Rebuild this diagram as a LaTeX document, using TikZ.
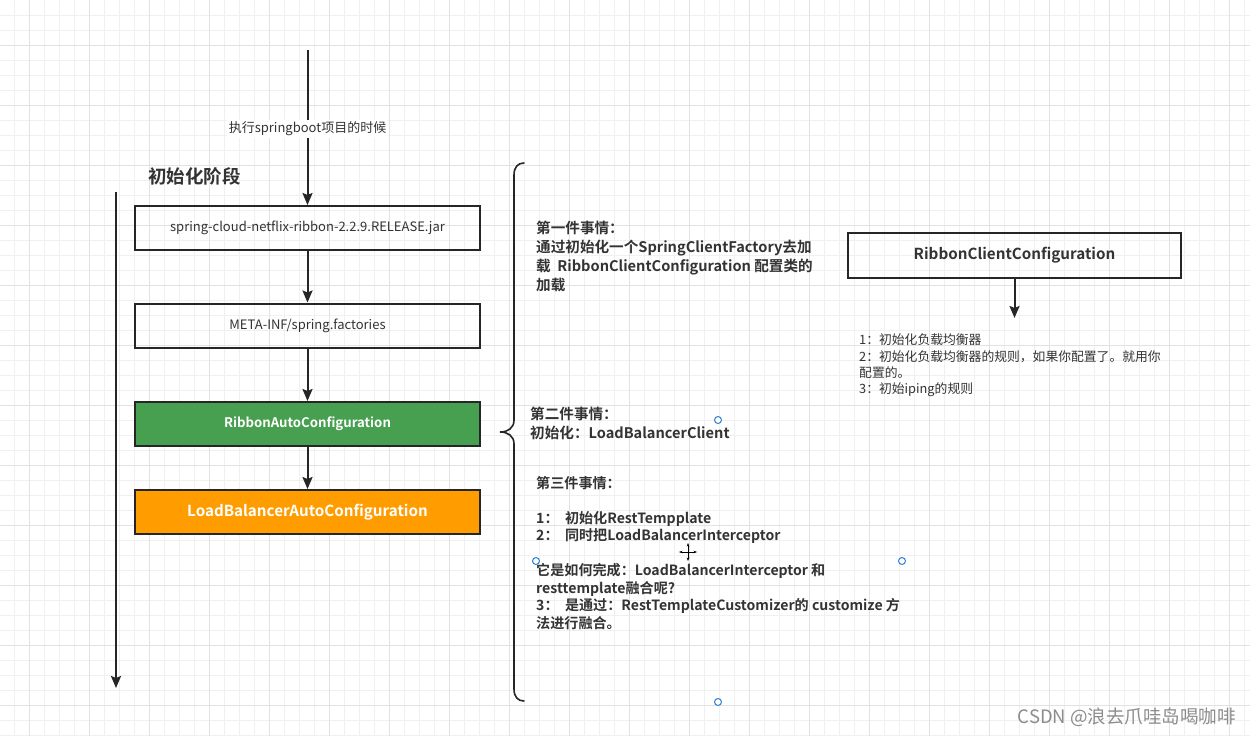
\documentclass[tikz,border=0pt]{standalone}
\usepackage{fontspec}
\setmainfont{Noto Sans CJK SC}[BoldFont={Noto Sans CJK SC Bold}]
\usetikzlibrary{arrows.meta}
\definecolor{txt}{HTML}{333333}
\definecolor{edge}{HTML}{262626}
\definecolor{grn}{HTML}{46A04F}
\definecolor{org}{HTML}{FF9C00}
\definecolor{gmin}{HTML}{F0F0F0}
\definecolor{gmaj}{HTML}{E2E2E2}
\definecolor{hdl}{HTML}{2F80D0}
\tikzset{
  flowbox/.style={draw=edge, line width=2pt, minimum width=345pt, minimum height=44pt, inner sep=0pt, text=txt, font=\fontsize{13}{15}\selectfont},
  conn/.style={draw=edge, line width=2pt, -{Stealth[length=12pt,width=10pt,inset=2pt]}},
  para/.style={anchor=north west, inner sep=0pt, align=left, text=txt, font=\fontsize{14.6}{19}\selectfont\bfseries},
  handle/.style={circle, draw=hdl, fill=white, line width=1pt, minimum size=7pt, inner sep=0pt},
}
\begin{document}
\begin{tikzpicture}[x=1pt,y=-1pt]
\useasboundingbox (0,0) rectangle (1250,736);
\fill[white] (0,0) rectangle (1250,736);
% grid
\foreach \x in {14.5,29.5,...,1250} \draw[gmin, line width=1pt] (\x,0) -- (\x,736);
\foreach \y in {15,30,...,736} \draw[gmin, line width=1pt] (0,\y) -- (1250,\y);
\foreach \x in {29.5,89.5,...,1250} \draw[gmaj, line width=1pt] (\x,0) -- (\x,736);
\foreach \y in {45,105,...,736} \draw[gmaj, line width=1pt] (0,\y) -- (1250,\y);

% title
\node[anchor=west, inner sep=0pt, text=txt, font=\fontsize{18.5}{20}\selectfont\bfseries] (title) at (148,176) {初始化阶段};

% left timeline arrow
\coordinate (ls) at (116,192);
\coordinate (le) at (116,688);
\draw[conn] (ls) -- (le);

% flow boxes
\node[flowbox] (b1) at (307.5,228) {spring-cloud-netflix-ribbon-2.2.9.RELEASE.jar};
\node[flowbox] (b2) at (307.5,325.5) {META-INF/spring.factories};
\node[flowbox, fill=grn, text=white, font=\fontsize{13.2}{15}\selectfont\bfseries] (b3) at (307.5,424) {RibbonAutoConfiguration};
\node[flowbox, fill=org, text=white, font=\fontsize{15.2}{17}\selectfont\bfseries] (b4) at (307.5,512) {LoadBalancerAutoConfiguration};

\coordinate (top) at (307.5,50);
\draw[conn] (top) -- node[pos=0.51, fill=white, inner sep=1.5pt, text=txt, font=\fontsize{13}{15}\selectfont] (lbl) {执行springboot项目的时候} (b1.north);
\draw[conn] (b1) -- (b2);
\draw[conn] (b2) -- (b3);
\draw[conn] (b3) -- (b4);

% brace
\draw[edge, line width=1.6pt, line cap=round]
  (524,163) .. controls (518,163) and (514,167) .. (514,175)
  -- (514,420) .. controls (514,428) and (508,432) .. (500,432)
  .. controls (508,432) and (514,436) .. (514,444)
  -- (514,689) .. controls (514,697) and (518,701) .. (524,701);

% text blocks
\node[para] (t1) at (536,221) {第一件事情：\\通过初始化一个SpringClientFactory去加\\载\ \ RibbonClientConfiguration 配置类的\\加载};
\node[para] (t2) at (530,407) {第二件事情：\\初始化：LoadBalancerClient};
\node[para, font=\fontsize{14.1}{17.5}\selectfont\bfseries] (t3) at (536,476) {第三件事情：\\[17.5pt]1：\ \ 初始化RestTempplate\\2：\ \ 同时把LoadBalancerInterceptor\\[17.5pt]它是如何完成：LoadBalancerInterceptor 和\\resttemplate融合呢?\\3：\ \ 是通过：RestTemplateCustomizer的 customize 方\\法进行融合。};

% right box
\node[flowbox, minimum width=333pt, minimum height=45pt, font=\fontsize{15.2}{17}\selectfont\bfseries] (rc) at (1014.5,255.5) {RibbonClientConfiguration};
\coordinate (rce) at (1014.5,318);
\draw[conn] (rc) -- (rce);
\node[para, font=\fontsize{12.8}{16.3}\selectfont] (t4) at (859,334) {1：初始化负载均衡器\\2：初始化负载均衡器的规则，如果你配置了。就用你\\配置的。\\3：初始iping的规则};

% selection handles and cursor
\node[handle] (h1) at (718,420) {};
\node[handle] (h2) at (536,561) {};
\node[handle] (h3) at (902,561) {};
\node[handle] (h4) at (718,702) {};
\coordinate (cur) at (688,552);
\draw[black, line width=0.9pt, {Stealth[length=3.5pt]}-{Stealth[length=3.5pt]}] ([xshift=-9pt]cur) -- ([xshift=9pt]cur);
\draw[black, line width=0.9pt, {Stealth[length=3.5pt]}-{Stealth[length=3.5pt]}] ([yshift=-9pt]cur) -- ([yshift=9pt]cur);

% watermark
\node[anchor=east, inner sep=0pt, text=black!45, font=\fontsize{18.5}{20}\selectfont] (wm) at (1236,717) {CSDN @浪去爪哇岛喝咖啡};
\end{tikzpicture}
\end{document}
